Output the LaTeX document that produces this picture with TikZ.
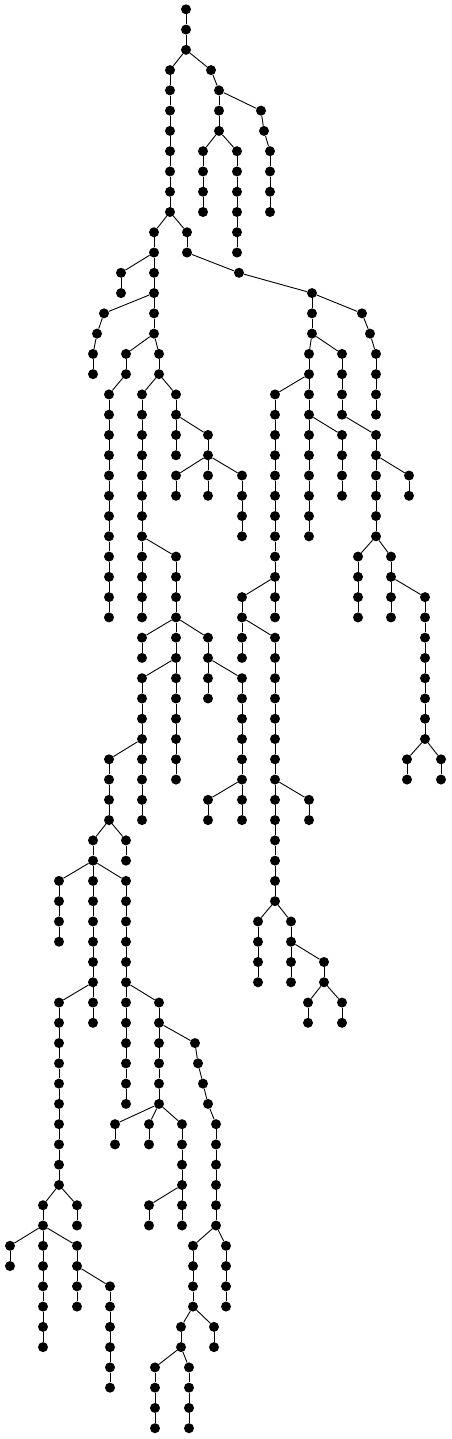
\documentclass[tikz,border=0pt]{standalone}
\tikzset{
  vtx/.style={circle, fill=black, draw=none, inner sep=0pt, minimum size=10pt},
  edge/.style={line width=0.9pt, black}
}
\begin{document}
\begin{tikzpicture}
\useasboundingbox (0pt,0pt) rectangle (451pt,-1439pt);
\begin{scope}[x=1pt,y=-20.27pt,yshift=-9.3pt]
\node[vtx] (n186r0) at (186,0) {};
\foreach \x/\r/\p/\q in {
186/1/186/0, 186/2/186/1,
170/3/186/2, 211/3/186/2,
170/4/170/3, 219/4/211/3,
170/5/170/4, 219/5/219/4, 261/5/219/4,
170/6/170/5, 219/6/219/5, 264/6/261/5,
170/7/170/6, 203/7/219/6, 237/7/219/6, 270/7/264/6,
170/8/170/7, 203/8/203/7, 237/8/237/7, 270/8/270/7,
170/9/170/8, 203/9/203/8, 237/9/237/8, 270/9/270/8,
170/10/170/9, 203/10/203/9, 237/10/237/9, 270/10/270/9,
154/11/170/10, 187/11/170/10, 237/11/237/10,
154/12/154/11, 187/12/187/11, 237/12/237/11,
121/13/154/12, 154/13/154/12, 239/13/187/12,
121/14/121/13, 154/14/154/13, 312/14/239/13,
104/15/154/14, 154/15/154/14, 312/15/312/14, 362/15/312/14,
97/16/104/15, 154/16/154/15, 312/16/312/15, 370/16/362/15,
93/17/97/16, 126/17/154/16, 159/17/154/16, 309/17/312/16, 342/17/312/16, 376/17/370/16,
93/18/93/17, 126/18/126/17, 159/18/159/17, 309/18/309/17, 342/18/342/17, 376/18/376/17,
109/19/126/18, 142/19/159/18, 176/19/159/18, 275/19/309/18, 309/19/309/18, 342/19/342/18, 376/19/376/18,
109/20/109/19, 142/20/142/19, 176/20/176/19, 275/20/275/19, 309/20/309/19, 342/20/342/19, 376/20/376/19,
109/21/109/20, 142/21/142/20, 176/21/176/20, 208/21/176/20, 275/21/275/20, 309/21/309/20, 342/21/309/20, 376/21/342/20,
109/22/109/21, 142/22/142/21, 176/22/176/21, 208/22/208/21, 275/22/275/21, 309/22/309/21, 342/22/342/21, 376/22/376/21,
109/23/109/22, 142/23/142/22, 176/23/208/22, 208/23/208/22, 242/23/208/22, 275/23/275/22, 309/23/309/22, 342/23/342/22, 376/23/376/22, 409/23/376/22,
109/24/109/23, 142/24/142/23, 176/24/176/23, 208/24/208/23, 242/24/242/23, 275/24/275/23, 309/24/309/23, 342/24/342/23, 376/24/376/23, 409/24/409/23,
109/25/109/24, 142/25/142/24, 242/25/242/24, 275/25/275/24, 309/25/309/24, 376/25/376/24,
109/26/109/25, 142/26/142/25, 242/26/242/25, 275/26/275/25, 309/26/309/25, 376/26/376/25,
109/27/109/26, 142/27/142/26, 176/27/142/26, 275/27/275/26, 358/27/376/26, 391/27/376/26,
109/28/109/27, 142/28/142/27, 176/28/176/27, 275/28/275/27, 358/28/358/27, 391/28/391/27,
109/29/109/28, 142/29/142/28, 176/29/176/28, 242/29/275/28, 275/29/275/28, 358/29/358/28, 391/29/391/28, 425/29/391/28,
109/30/109/29, 142/30/142/29, 176/30/176/29, 242/30/242/29, 275/30/275/29, 358/30/358/29, 391/30/391/29, 425/30/425/29,
142/31/176/30, 176/31/176/30, 208/31/176/30, 242/31/242/30, 275/31/242/30, 425/31/425/30,
142/32/142/31, 176/32/176/31, 208/32/208/31, 242/32/242/31, 275/32/275/31, 425/32/425/31,
142/33/176/32, 176/33/176/32, 208/33/208/32, 242/33/208/32, 275/33/275/32, 425/33/425/32,
142/34/142/33, 176/34/176/33, 208/34/208/33, 242/34/242/33, 275/34/275/33, 425/34/425/33,
142/35/142/34, 176/35/176/34, 242/35/242/34, 275/35/275/34, 425/35/425/34,
142/36/142/35, 176/36/176/35, 242/36/242/35, 275/36/275/35, 425/36/425/35,
109/37/142/36, 142/37/142/36, 176/37/176/36, 242/37/242/36, 275/37/275/36, 407/37/425/36, 441/37/425/36,
109/38/109/37, 142/38/142/37, 176/38/176/37, 242/38/242/37, 275/38/275/37, 407/38/407/37, 441/38/441/37,
109/39/109/38, 142/39/142/38, 208/39/242/38, 242/39/242/38, 275/39/275/38, 309/39/275/38,
109/40/109/39, 142/40/142/39, 208/40/208/39, 242/40/242/39, 275/40/275/39, 309/40/309/39,
93/41/109/40, 126/41/109/40, 275/41/275/40,
93/42/93/41, 126/42/126/41, 275/42/275/41,
59/43/93/42, 93/43/93/42, 126/43/93/42, 275/43/275/42,
59/44/59/43, 93/44/93/43, 126/44/126/43, 275/44/275/43,
59/45/59/44, 93/45/93/44, 126/45/126/44, 258/45/275/44, 291/45/275/44,
59/46/59/45, 93/46/93/45, 126/46/126/45, 258/46/258/45, 291/46/291/45,
93/47/93/46, 126/47/126/46, 258/47/258/46, 291/47/291/46, 324/47/291/46,
93/48/93/47, 126/48/126/47, 258/48/258/47, 291/48/291/47, 324/48/324/47,
59/49/93/48, 93/49/93/48, 126/49/126/48, 159/49/126/48, 308/49/324/48, 342/49/324/48,
59/50/59/49, 93/50/93/49, 126/50/126/49, 159/50/159/49, 308/50/308/49, 342/50/342/49,
59/51/59/50, 126/51/126/50, 159/51/159/50, 195/51/159/50,
59/52/59/51, 126/52/126/51, 159/52/159/51, 198/52/195/51,
59/53/59/52, 126/53/126/52, 159/53/159/52, 203/53/198/52,
59/54/59/53, 126/54/126/53, 159/54/159/53, 208/54/203/53,
59/55/59/54, 115/55/159/54, 149/55/159/54, 182/55/159/54, 216/55/208/54,
59/56/59/55, 115/56/115/55, 149/56/149/55, 182/56/182/55, 216/56/216/55,
59/57/59/56, 182/57/182/56, 216/57/216/56,
59/58/59/57, 182/58/182/57, 216/58/216/57,
43/59/59/58, 77/59/59/58, 149/59/182/58, 182/59/182/58, 216/59/216/58,
43/60/43/59, 77/60/77/59, 149/60/149/59, 182/60/182/59, 216/60/216/59,
10/61/43/60, 43/61/43/60, 77/61/43/60, 193/61/216/60, 226/61/216/60,
10/62/10/61, 43/62/43/61, 77/62/77/61, 193/62/193/61, 226/62/226/61,
43/63/43/62, 77/63/77/62, 110/63/77/62, 193/63/193/62, 226/63/226/62,
43/64/43/63, 77/64/77/63, 110/64/110/63, 193/64/193/63, 226/64/226/63,
43/65/43/64, 110/65/110/64, 181/65/193/64, 214/65/193/64,
43/66/43/65, 110/66/110/65, 181/66/181/65, 214/66/214/65,
110/67/110/66, 155/67/181/66, 189/67/181/66,
110/68/110/67, 155/68/155/67, 189/68/189/67,
155/69/155/68, 189/69/189/68,
155/70/155/69, 189/70/189/69}
{
  \node[vtx] (n\x r\r) at (\x,\r) {};
  \draw[edge] (n\p r\q) -- (n\x r\r);
}
\end{scope}
\end{tikzpicture}
\end{document}
